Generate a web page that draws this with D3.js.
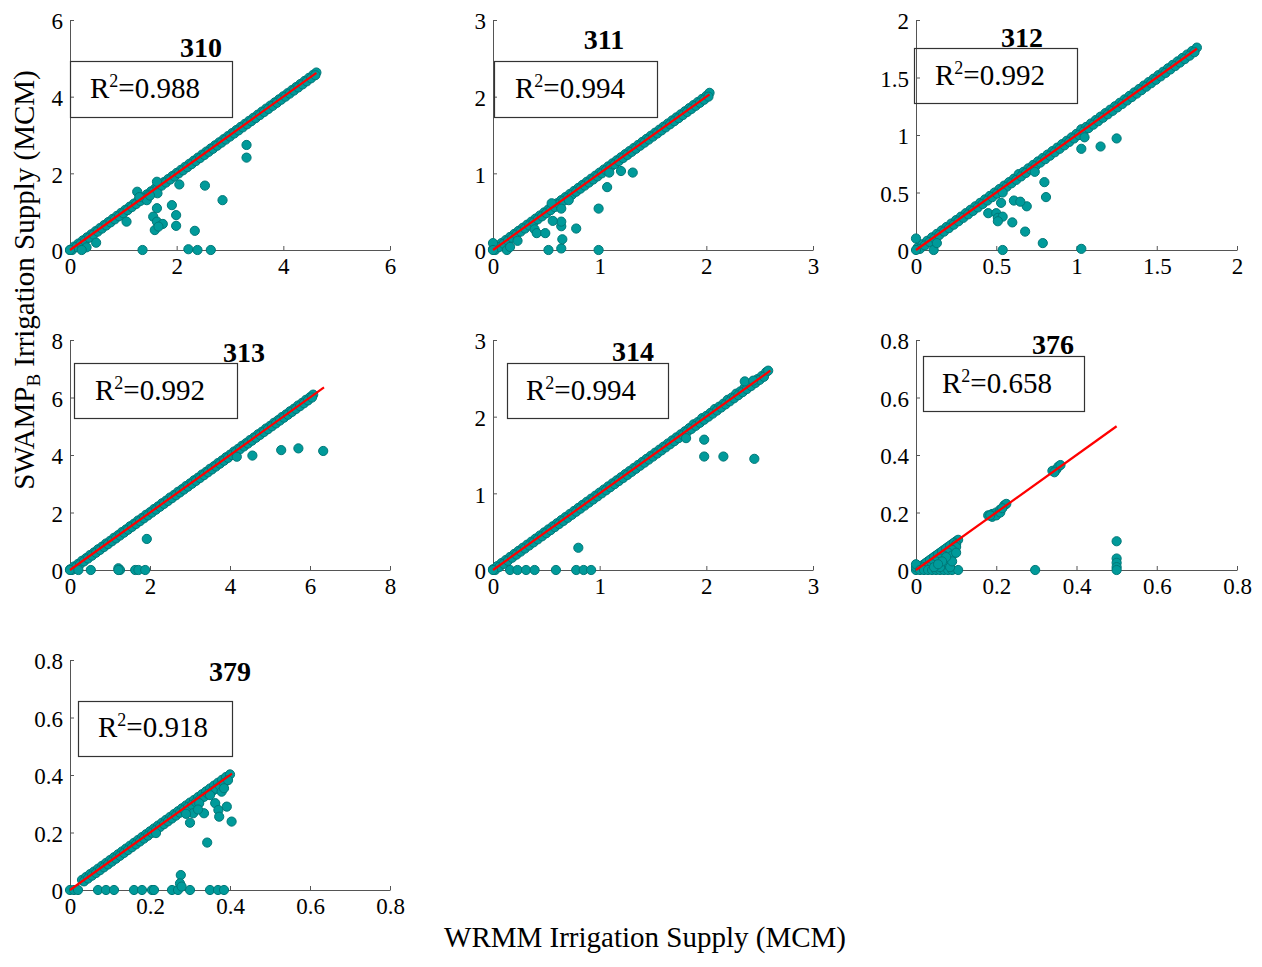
<!DOCTYPE html>
<html>
<head>
<meta charset="utf-8">
<script src="https://cdn.jsdelivr.net/npm/d3@7"></script>
<style>
  body { margin: 0; background: #fff; }
  svg { display: block; font-family: "Liberation Serif", "Times New Roman", serif; }
  svg text { font-family: "Liberation Serif", "Times New Roman", serif; }
</style>
</head>
<body>
<div id="container"></div>
<script>
// ---- data ----
let stations = ["310", "311", "312", "313", "314", "376", "379"];
let r2Values = ["0.988", "0.994", "0.992", "0.992", "0.994", "0.658", "0.918"];

let ticks310 = [0, 2, 4, 6];
let ticks311 = [0, 1, 2, 3];
let ticks312 = [0, 0.5, 1, 1.5, 2];
let ticks313 = [0, 2, 4, 6, 8];
let ticks314 = [0, 1, 2, 3];
let ticks376 = [0, 0.2, 0.4, 0.6, 0.8];
let ticks379 = [0, 0.2, 0.4, 0.6, 0.8];

// fitted line end points [x0,y0],[x1,y1]
let fit310 = [[0, 0], [4.62, 4.62]];
let fit311 = [[0, 0], [2.03, 2.03]];
let fit312 = [[0, 0], [1.75, 1.75]];
let fit313 = [[0, 0], [6.35, 6.35]];
let fit314 = [[0, 0], [2.6, 2.6]];
let fit376 = [[0, 0], [0.5, 0.5]];
let fit379 = [[0, 0], [0.405, 0.405]];

// points on / near the 1:1 band
let diag310 = [[0,0],[0.08,0.09],[0.16,0.17],[0.24,0.25],[0.32,0.33],[0.4,0.41],[0.48,0.49],[0.56,0.57],[0.64,0.65],[0.72,0.73],[0.8,0.81],[0.88,0.89],[0.96,0.97],[1.04,1.05],[1.12,1.13],[1.2,1.21],[1.28,1.29],[1.36,1.37],[1.44,1.45],[1.52,1.53],[1.6,1.61],[1.68,1.69],[1.76,1.77],[1.84,1.85],[1.92,1.93],[2,2.01],[2.08,2.09],[2.16,2.17],[2.24,2.25],[2.32,2.33],[2.4,2.41],[2.48,2.49],[2.56,2.57],[2.64,2.65],[2.72,2.73],[2.8,2.81],[2.88,2.89],[2.96,2.97],[3.04,3.05],[3.12,3.13],[3.2,3.21],[3.28,3.29],[3.36,3.37],[3.44,3.45],[3.52,3.53],[3.6,3.61],[3.68,3.69],[3.76,3.77],[3.84,3.85],[3.92,3.93],[4,4.01],[4.08,4.09],[4.16,4.17],[4.24,4.25],[4.32,4.33],[4.4,4.41],[4.48,4.49],[4.56,4.57],[4.62,4.63],
  [0.04,0],[0.12,0.08],[0.2,0.16],[0.28,0.24],[0.36,0.32],[0.44,0.4],[0.52,0.48],[0.6,0.56],[0.68,0.64],[0.76,0.72],[0.84,0.8],[0.92,0.88],[1,0.96],[1.08,1.04],[1.16,1.12],[1.24,1.2],[1.32,1.28],[1.4,1.36],[1.48,1.44],[1.56,1.52],[1.64,1.6],[1.72,1.68],[1.8,1.76],[1.88,1.84],[1.96,1.92],[2.04,2],[2.12,2.08],[2.2,2.16],[2.28,2.24],[2.36,2.32],[2.44,2.4],[2.52,2.48],[2.6,2.56],[2.68,2.64],[2.76,2.72],[2.84,2.8],[2.92,2.88],[3,2.96],[3.08,3.04],[3.16,3.12],[3.24,3.2],[3.32,3.28],[3.4,3.36],[3.48,3.44],[3.56,3.52],[3.64,3.6],[3.72,3.68],[3.8,3.76],[3.88,3.84],[3.96,3.92],[4.04,4],[4.12,4.08],[4.2,4.16],[4.28,4.24],[4.36,4.32],[4.44,4.4],[4.52,4.48],[4.6,4.56]];
let off310 = [[3.31,2.74],[3.31,2.41],[2.05,1.71],[2.53,1.68],[2.86,1.3],[1.91,1.17],[1.99,0.91],[1.99,0.63],[1.63,1.09],[1.56,0.87],[1.63,0.74],[1.74,0.68],[1.59,0.52],[1.66,0.61],[1.06,0.74],[1.26,1.52],[1.44,1.3],[1.63,1.78],[1.64,1.48],[2.34,0.5],[1.36,0],[2.22,0.02],[2.39,0],[2.64,0],[0.49,0.19],[0.31,0.07],[0.22,0],[0,0],[1.3,1.38],[1.5,1.42]];

let diag311 = [[0,0.01],[0.04,0.05],[0.08,0.09],[0.12,0.13],[0.16,0.17],[0.2,0.21],[0.24,0.25],[0.28,0.29],[0.32,0.33],[0.36,0.37],[0.4,0.41],[0.44,0.45],[0.48,0.49],[0.52,0.53],[0.56,0.58],[0.6,0.61],[0.64,0.65],[0.68,0.69],[0.72,0.73],[0.76,0.77],[0.8,0.81],[0.84,0.85],[0.88,0.89],[0.92,0.93],[0.96,0.97],[1,1.01],[1.04,1.05],[1.08,1.09],[1.12,1.13],[1.16,1.17],[1.2,1.21],[1.24,1.25],[1.28,1.29],[1.32,1.33],[1.36,1.37],[1.4,1.41],[1.44,1.45],[1.48,1.49],[1.52,1.53],[1.56,1.57],[1.6,1.61],[1.64,1.65],[1.68,1.69],[1.72,1.73],[1.76,1.77],[1.8,1.81],[1.84,1.85],[1.88,1.89],[1.92,1.93],[1.96,1.97],[2,2.01],[2.03,2.05],
  [0.02,0],[0.06,0.04],[0.1,0.08],[0.14,0.12],[0.18,0.16],[0.22,0.2],[0.26,0.24],[0.3,0.28],[0.34,0.32],[0.38,0.36],[0.42,0.4],[0.46,0.44],[0.5,0.48],[0.54,0.52],[0.58,0.56],[0.62,0.6],[0.66,0.64],[0.7,0.68],[0.74,0.72],[0.78,0.76],[0.82,0.8],[0.86,0.84],[0.9,0.88],[0.94,0.92],[0.98,0.96],[1.02,1],[1.06,1.04],[1.1,1.08],[1.14,1.12],[1.18,1.16],[1.22,1.2],[1.26,1.24],[1.3,1.28],[1.34,1.32],[1.38,1.36],[1.42,1.4],[1.46,1.44],[1.5,1.48],[1.54,1.52],[1.58,1.56],[1.62,1.6],[1.66,1.64],[1.7,1.68],[1.74,1.72],[1.78,1.76],[1.82,1.8],[1.86,1.84],[1.9,1.88],[1.94,1.92],[1.98,1.96],[2.02,2]];
let off311 = [[1.09,1.01],[1.2,1.03],[1.31,1.01],[1.07,0.82],[0.99,0.54],[0.99,0],[0.52,0],[0.64,0.02],[0.65,0.14],[0.64,0.31],[0.64,0.37],[0.56,0.38],[0.78,0.28],[0.39,0.27],[0.41,0.22],[0.49,0.22],[0.64,0.54],[0.71,0.65],[0.55,0.61],[0.23,0.12],[0.13,0],[0,0.09],[0.16,0.04],[0,0]];

let diag312 = [[0.01,0.02],[0.04,0.05],[0.07,0.08],[0.1,0.11],[0.13,0.14],[0.16,0.17],[0.19,0.2],[0.22,0.23],[0.25,0.26],[0.28,0.29],[0.31,0.32],[0.34,0.35],[0.37,0.38],[0.4,0.41],[0.43,0.44],[0.46,0.47],[0.49,0.5],[0.52,0.53],[0.55,0.56],[0.58,0.59],[0.61,0.62],[0.64,0.66],[0.67,0.68],[0.7,0.71],[0.73,0.74],[0.76,0.77],[0.79,0.8],[0.82,0.83],[0.85,0.86],[0.88,0.89],[0.91,0.92],[0.94,0.95],[0.97,0.98],[1,1.01],[1.03,1.05],[1.06,1.07],[1.09,1.1],[1.12,1.13],[1.15,1.16],[1.18,1.19],[1.21,1.22],[1.24,1.25],[1.27,1.28],[1.3,1.31],[1.33,1.34],[1.36,1.37],[1.39,1.4],[1.42,1.43],[1.45,1.46],[1.48,1.49],[1.51,1.52],[1.54,1.55],[1.57,1.58],[1.6,1.61],[1.63,1.64],[1.66,1.67],[1.69,1.7],[1.72,1.73],[1.75,1.76],
  [0.025,0.01],[0.055,0.04],[0.085,0.07],[0.115,0.1],[0.145,0.13],[0.175,0.16],[0.205,0.19],[0.235,0.22],[0.265,0.25],[0.295,0.28],[0.325,0.31],[0.355,0.34],[0.385,0.37],[0.415,0.4],[0.445,0.43],[0.475,0.46],[0.505,0.49],[0.535,0.52],[0.565,0.55],[0.595,0.58],[0.625,0.61],[0.655,0.64],[0.685,0.67],[0.715,0.7],[0.745,0.73],[0.775,0.76],[0.805,0.79],[0.835,0.82],[0.865,0.85],[0.895,0.88],[0.925,0.91],[0.955,0.94],[0.985,0.97],[1.015,1],[1.045,1.03],[1.075,1.06],[1.105,1.09],[1.135,1.12],[1.165,1.15],[1.195,1.18],[1.225,1.21],[1.255,1.24],[1.285,1.27],[1.315,1.3],[1.345,1.33],[1.375,1.36],[1.405,1.39],[1.435,1.42],[1.465,1.45],[1.495,1.48],[1.525,1.51],[1.555,1.54],[1.585,1.57],[1.615,1.6],[1.645,1.63],[1.675,1.66],[1.705,1.69],[1.735,1.72]];
let off312 = [[1.05,0.98],[1.03,0.88],[1.15,0.9],[1.25,0.97],[0.74,0.68],[0.8,0.59],[0.81,0.46],[0.69,0.38],[0.61,0.43],[0.65,0.42],[0.54,0.5],[0.53,0.41],[0.45,0.32],[0.5,0.32],[0.51,0.28],[0.54,0.29],[0.51,0.25],[0.6,0.24],[0.68,0.16],[0.79,0.06],[1.03,0.01],[0.54,0],[0,0.1],[0,0],[0.11,0],[0.13,0.06]];

let diag313 = [[0,0.02],[0.1,0.12],[0.2,0.21],[0.3,0.32],[0.4,0.41],[0.5,0.52],[0.6,0.61],[0.7,0.72],[0.8,0.81],[0.9,0.92],[1,1.01],[1.1,1.12],[1.2,1.21],[1.3,1.32],[1.4,1.41],[1.5,1.52],[1.6,1.61],[1.7,1.72],[1.8,1.81],[1.9,1.92],[2,2.01],[2.1,2.12],[2.2,2.21],[2.3,2.32],[2.4,2.41],[2.5,2.52],[2.6,2.61],[2.7,2.72],[2.8,2.81],[2.9,2.92],[3,3.01],[3.1,3.12],[3.2,3.21],[3.3,3.32],[3.4,3.41],[3.5,3.52],[3.6,3.61],[3.7,3.72],[3.8,3.81],[3.9,3.92],[4,4.01],[4.1,4.12],[4.2,4.21],[4.3,4.32],[4.4,4.41],[4.5,4.52],[4.6,4.61],[4.7,4.72],[4.8,4.81],[4.9,4.92],[5,5.01],[5.1,5.12],[5.2,5.21],[5.3,5.32],[5.4,5.41],[5.5,5.52],[5.6,5.61],[5.7,5.72],[5.8,5.81],[5.9,5.92],[6,6.01],[6.08,6.1],
  [0.05,0],[0.15,0.1],[0.25,0.2],[0.35,0.3],[0.45,0.4],[0.55,0.5],[0.65,0.6],[0.75,0.7],[0.85,0.8],[0.95,0.9],[1.05,1],[1.15,1.1],[1.25,1.2],[1.35,1.3],[1.45,1.4],[1.55,1.5],[1.65,1.6],[1.75,1.7],[1.85,1.8],[1.95,1.9],[2.05,2],[2.15,2.1],[2.25,2.2],[2.35,2.3],[2.45,2.4],[2.55,2.5],[2.65,2.6],[2.75,2.7],[2.85,2.8],[2.95,2.9],[3.05,3],[3.15,3.1],[3.25,3.2],[3.35,3.3],[3.45,3.4],[3.55,3.5],[3.65,3.6],[3.75,3.7],[3.85,3.8],[3.95,3.9],[4.05,4],[4.15,4.1],[4.25,4.2],[4.35,4.3],[4.45,4.4],[4.55,4.5],[4.65,4.6],[4.75,4.7],[4.85,4.8],[4.95,4.9],[5.05,5],[5.15,5.1],[5.25,5.2],[5.35,5.3],[5.45,5.4],[5.55,5.5],[5.65,5.6],[5.75,5.7],[5.85,5.8],[5.95,5.9],[6.05,6]];
let off313 = [[0,0],[0.21,0],[0.52,0],[1.21,0.06],[1.25,0],[1.21,0],[1.63,0],[1.71,0],[1.88,0],[1.92,1.08],[4.17,3.94],[4.56,3.98],[5.28,4.17],[5.71,4.23],[6.33,4.14]];

let diag314 = [[0,0.01],[0.04,0.05],[0.08,0.09],[0.12,0.13],[0.16,0.17],[0.2,0.21],[0.24,0.25],[0.28,0.29],[0.32,0.33],[0.36,0.37],[0.4,0.41],[0.44,0.45],[0.48,0.49],[0.52,0.53],[0.56,0.57],[0.6,0.61],[0.64,0.65],[0.68,0.69],[0.72,0.73],[0.76,0.77],[0.8,0.81],[0.84,0.85],[0.88,0.89],[0.92,0.93],[0.96,0.97],[1,1.01],[1.04,1.05],[1.08,1.09],[1.12,1.13],[1.16,1.17],[1.2,1.21],[1.24,1.25],[1.28,1.29],[1.32,1.33],[1.36,1.37],[1.4,1.41],[1.44,1.45],[1.48,1.49],[1.52,1.53],[1.56,1.57],[1.6,1.61],[1.64,1.65],[1.68,1.69],[1.72,1.73],[1.76,1.77],[1.8,1.81],[1.84,1.85],[1.88,1.9],[1.92,1.93],[1.96,1.98],[2,2.01],[2.04,2.05],[2.08,2.1],[2.12,2.13],[2.16,2.17],[2.2,2.22],[2.24,2.25],[2.28,2.3],[2.32,2.33],[2.36,2.38],[2.4,2.41],[2.44,2.46],[2.48,2.49],[2.52,2.53],[2.56,2.58],
  [0.02,0],[0.06,0.04],[0.1,0.08],[0.14,0.12],[0.18,0.16],[0.22,0.2],[0.26,0.24],[0.3,0.28],[0.34,0.32],[0.38,0.36],[0.42,0.4],[0.46,0.44],[0.5,0.48],[0.54,0.52],[0.58,0.56],[0.62,0.6],[0.66,0.64],[0.7,0.68],[0.74,0.72],[0.78,0.76],[0.82,0.8],[0.86,0.84],[0.9,0.88],[0.94,0.92],[0.98,0.96],[1.02,1],[1.06,1.04],[1.1,1.08],[1.14,1.12],[1.18,1.16],[1.22,1.2],[1.26,1.24],[1.3,1.28],[1.34,1.32],[1.38,1.36],[1.42,1.4],[1.46,1.44],[1.5,1.48],[1.54,1.52],[1.58,1.56],[1.62,1.6],[1.66,1.64],[1.7,1.68],[1.74,1.72],[1.78,1.76],[1.82,1.8],[1.86,1.84],[1.9,1.88],[1.94,1.92],[1.98,1.96],[2.02,2],[2.06,2.04],[2.1,2.08],[2.14,2.12],[2.18,2.16],[2.22,2.2],[2.26,2.24],[2.3,2.28],[2.34,2.32],[2.38,2.36],[2.42,2.4],[2.46,2.44],[2.5,2.48],[2.54,2.52]];
let off314 = [[0,0],[0.16,0],[0.23,0],[0.31,0],[0.39,0],[0.59,0],[0.78,0],[0.85,0],[0.92,0],[0.8,0.29],[1.81,1.72],[1.98,1.7],[1.98,1.48],[2.16,1.48],[2.45,1.45],[2.58,2.6],[2.36,2.46],[2.44,2.47]];

let pts376 = [[0,0],[0.01,0.01],[0.02,0.02],[0.03,0.03],[0.04,0.04],[0.05,0.05],[0.06,0.06],[0.07,0.07],[0.08,0.08],[0.09,0.09],[0.1,0.1],[0.105,0.105],[0.015,0.015],[0.025,0.025],[0.035,0.035],[0.045,0.045],[0.055,0.055],[0.065,0.065],[0.075,0.075],[0.085,0.085],[0.095,0.095],[0.1,0.09],[0.1,0.08],[0.09,0.07],[0.08,0.06],[0.07,0.05],[0.06,0.04],[0.05,0.03],[0.04,0.02],[0.07,0.03],[0.06,0.02],[0.05,0.01],[0.08,0.04],[0.09,0.05],[0.03,0.01],[0.02,0.01],[0,0.01],[0,0.02],[0.01,0],[0.02,0],[0.03,0],[0.04,0],[0.05,0],[0.06,0],[0.07,0],[0.08,0],[0.09,0],[0.105,0],[0.07,0.02],[0.08,0.02],[0.085,0.01],[0.06,0.01],[0.045,0.01],[0.09,0.03],[0.1,0.06],[0.075,0.045],[0.065,0.03],[0.055,0.02],
  [0.18,0.19],[0.19,0.195],[0.2,0.2],[0.21,0.21],[0.22,0.225],[0.225,0.23],[0.19,0.185],[0.2,0.19],[0.21,0.2],[0.185,0.19],[0.215,0.215],
  [0.34,0.345],[0.35,0.35],[0.355,0.36],[0.36,0.365],[0.345,0.34],
  [0.297,0],[0.5,0.1],[0.5,0.04],[0.5,0.025],[0.5,0.01],[0.5,0]];

let diag379 = [[0.03,0.035],[0.04,0.045],[0.05,0.055],[0.06,0.064],[0.07,0.074],[0.08,0.084],[0.09,0.094],[0.1,0.104],[0.11,0.114],[0.12,0.124],[0.13,0.134],[0.14,0.144],[0.15,0.154],[0.16,0.164],[0.17,0.174],[0.18,0.184],[0.19,0.194],[0.2,0.204],[0.21,0.214],[0.22,0.224],[0.23,0.234],[0.24,0.244],[0.25,0.254],[0.26,0.264],[0.27,0.274],[0.28,0.284],[0.29,0.294],[0.3,0.304],[0.31,0.313],[0.32,0.323],[0.33,0.333],[0.34,0.343],[0.35,0.353],[0.36,0.363],[0.37,0.373],[0.38,0.383],[0.39,0.393],[0.4,0.402],
  [0.035,0.03],[0.045,0.04],[0.055,0.05],[0.065,0.059],[0.075,0.069],[0.085,0.079],[0.095,0.089],[0.105,0.099],[0.115,0.109],[0.125,0.119],[0.135,0.129],[0.145,0.139],[0.155,0.149],[0.165,0.159],[0.175,0.169],[0.185,0.179],[0.195,0.189],[0.205,0.199],[0.215,0.209],[0.225,0.219],[0.235,0.229],[0.245,0.239],[0.255,0.249],[0.265,0.259],[0.275,0.269],[0.285,0.279],[0.295,0.289],[0.305,0.296],[0.315,0.305],[0.325,0.315],[0.335,0.324],[0.345,0.334],[0.355,0.343],[0.365,0.352],[0.375,0.362],[0.385,0.372],[0.395,0.382]];
let off379 = [[0,0],[0.01,0],[0.02,0],[0.07,0],[0.09,0],[0.11,0],[0.16,0],[0.18,0],[0.205,0],[0.21,0],[0.255,0],[0.27,0],[0.3,0],[0.35,0],[0.37,0],[0.385,0],[0.277,0.052],[0.275,0.023],[0.279,0.012],[0.404,0.238],[0.343,0.165],[0.3,0.234],[0.308,0.267],[0.335,0.267],[0.363,0.302],[0.371,0.278],[0.373,0.255],[0.392,0.29],[0.379,0.342],[0.385,0.354],[0.323,0.302],[0.215,0.198],[0.29,0.265],[0.32,0.28],[0.35,0.33]];

// ---- layout ----
let w = 1262;
let h = 967;

// plot frame [left, top, width, height], title [cx, baseline], box [x, y, w, h], box text [x, baseline]
let frames = {
  "310": { plot: [70, 20, 320, 230],  title: [201, 57],  box: [70, 61, 162, 56],  text: [90, 98] },
  "311": { plot: [493, 20, 320, 230], title: [604, 49],  box: [494, 61, 163, 56], text: [515, 98] },
  "312": { plot: [916, 20, 321, 230], title: [1022, 47], box: [914, 48, 163, 55], text: [935, 85] },
  "313": { plot: [70, 340, 320, 230], title: [244, 362], box: [74, 363, 163, 55], text: [95, 400] },
  "314": { plot: [493, 340, 320, 230], title: [633, 361], box: [507, 363, 161, 55], text: [526, 400] },
  "376": { plot: [916, 340, 321, 230], title: [1053, 354], box: [923, 356, 161, 55], text: [942, 393] },
  "379": { plot: [70, 660, 320, 230], title: [230, 681], box: [78, 701, 154, 55], text: [98, 737] }
};

let panels = [
  { ticks: ticks310, points: diag310.concat(off310), fit: fit310 },
  { ticks: ticks311, points: diag311.concat(off311), fit: fit311 },
  { ticks: ticks312, points: diag312.concat(off312), fit: fit312 },
  { ticks: ticks313, points: diag313.concat(off313), fit: fit313 },
  { ticks: ticks314, points: diag314.concat(off314), fit: fit314 },
  { ticks: ticks376, points: pts376, fit: fit376 },
  { ticks: ticks379, points: diag379.concat(off379), fit: fit379 }
];
panels.forEach((p, i) => { p.id = stations[i]; p.r2 = r2Values[i]; });

let viz = d3.select("#container")
  .append("svg")
  .attr("width", w)
  .attr("height", h)
  .style("background-color", "white");

panels.forEach(p => drawPanel(p));

function drawPanel(p) {
  let f = frames[p.id];
  let [px, py, pw, ph] = f.plot;
  let g = viz.append("g").attr("transform", `translate(${px},${py})`);

  let x = d3.scaleLinear().domain(d3.extent(p.ticks)).range([0, pw]);
  let y = d3.scaleLinear().domain(d3.extent(p.ticks)).range([ph, 0]);
  let fmt = d3.format("~g");

  let xAxis = g.append("g")
    .attr("transform", `translate(0,${ph})`)
    .call(d3.axisBottom(x).tickValues(p.ticks).tickFormat(fmt).tickSizeInner(-4).tickSizeOuter(0).tickPadding(8));
  let yAxis = g.append("g")
    .call(d3.axisLeft(y).tickValues(p.ticks).tickFormat(fmt).tickSizeInner(-4).tickSizeOuter(0).tickPadding(7));

  [xAxis, yAxis].forEach(a => {
    a.attr("color", "#555").attr("font-family", "Liberation Serif, Times New Roman, serif").attr("font-size", 23);
    a.selectAll("text").attr("fill", "#000");
  });
  yAxis.selectAll("text").attr("dy", "0.38em");

  g.selectAll("circle.pt")
    .data(p.points)
    .enter()
    .append("circle")
    .attr("class", "pt")
    .attr("cx", d => x(d[0]))
    .attr("cy", d => y(d[1]))
    .attr("r", 4.6)
    .attr("fill", "#009a9a")
    .attr("stroke", "#007878")
    .attr("stroke-width", 1);

  g.append("line")
    .attr("x1", x(p.fit[0][0]))
    .attr("y1", y(p.fit[0][1]))
    .attr("x2", x(p.fit[1][0]))
    .attr("y2", y(p.fit[1][1]))
    .attr("stroke", "#ff0000")
    .attr("stroke-width", 2.2);

  // R² box
  let [bx, by, bw, bh] = f.box;
  viz.append("rect")
    .attr("x", bx + 0.5).attr("y", by + 0.5)
    .attr("width", bw).attr("height", bh)
    .attr("fill", "none")
    .attr("stroke", "#333")
    .attr("stroke-width", 1.2);

  let t = viz.append("text")
    .attr("x", f.text[0])
    .attr("y", f.text[1])
    .style("font-size", "29px")
    .attr("fill", "#000");
  t.append("tspan").text("R");
  t.append("tspan").text("2").style("font-size", "18px").attr("dy", -11);
  t.append("tspan").text("=" + p.r2).attr("dy", 11);

  viz.append("text")
    .attr("x", f.title[0])
    .attr("y", f.title[1])
    .attr("text-anchor", "middle")
    .style("font-size", "28px")
    .style("font-weight", "bold")
    .text(p.id);
}

// axis titles
viz.append("text")
  .attr("x", 645)
  .attr("y", 947)
  .attr("text-anchor", "middle")
  .style("font-size", "29px")
  .text("WRMM Irrigation Supply (MCM)");

let yLabel = viz.append("text")
  .attr("transform", "translate(34,280) rotate(-90)")
  .attr("text-anchor", "middle")
  .style("font-size", "29px");
yLabel.append("tspan").text("SWAMP");
yLabel.append("tspan").text("B").style("font-size", "19px").attr("dy", 6);
yLabel.append("tspan").text(" Irrigation Supply (MCM)").attr("dy", -6);
</script>
</body>
</html>
